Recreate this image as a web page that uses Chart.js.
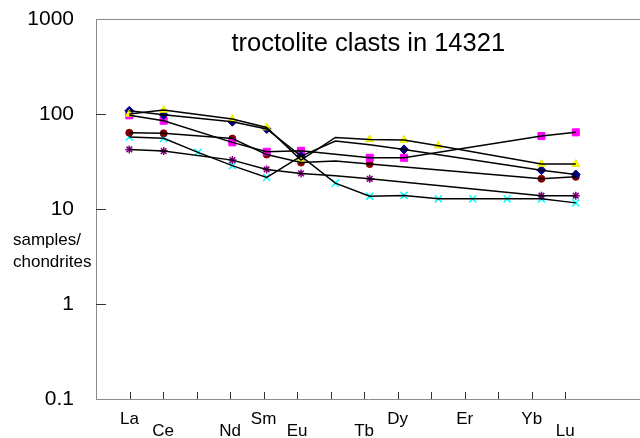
<!DOCTYPE html>
<html>
<head>
<meta charset="utf-8">
<title>troctolite clasts in 14321</title>
<script src="https://cdn.jsdelivr.net/npm/chart.js@4.4.1/dist/chart.umd.min.js"></script>
<style>
  html, body { margin: 0; padding: 0; background: #fff; }
  #wrap { width: 640px; height: 438px; position: relative; }
</style>
</head>
<body>
<div id="wrap"><canvas id="ree"></canvas></div>
<script>
// Rare earth elements in order of atomic number
const elements = ['La', 'Ce', 'Pr', 'Nd', 'Sm', 'Eu', 'Gd', 'Tb', 'Dy', 'Ho', 'Er', 'Tm', 'Yb', 'Lu'];
// Axis labels (blank where an element is not labelled) and which row each one sits on
const axisLabels = ['La', 'Ce', '', 'Nd', 'Sm', 'Eu', '', 'Tb', 'Dy', '', 'Er', '', 'Yb', 'Lu'];
const labelRow = [0, 1, 0, 1, 0, 1, 0, 1, 0, 0, 0, 0, 0, 1];
const yTicks = [0.1, 1, 10, 100, 1000];

// Chondrite-normalised abundances per clast (null = not determined)
const clastA = [108, 98, null, 83, 69.5, 36, 52, 47.4, 42.4, null, null, null, 25.6, 23.1];
const clastAUnmarked = ['Gd', 'Tb'];
const clastB = [100, 110, null, 88.6, 72, 32.7, 56.7, 54, 53.2, 46.4, null, null, 29.7, 29.7];
const clastBUnmarked = ['Gd'];
const clastC = [96.9, 85, null, 50.3, 40, 41, null, 34.6, 34.6, null, null, null, 58.6, 64.1];
const clastCUnmarked = [];
const clastD = [63.5, 62.6, null, 55.2, 37.4, 30.8, 32.1, 29.7, null, null, null, null, 20.8, 21.8];
const clastDUnmarked = ['Gd'];
const clastE = [42.4, 40.7, null, 32.7, 26.1, 23.7, 22.4, 20.8, null, null, null, null, 13.8, 13.8];
const clastEUnmarked = ['Gd'];
const clastF = [57.2, 55.4, 39.4, 28.6, 21.5, 36, 18.7, 13.6, 13.9, 12.8, 12.8, 12.8, 12.8, 11.6];
const clastFUnmarked = [];

const fontFamily = '"Liberation Sans", Arial, Helvetica, sans-serif';

const series = [
  { values: clastB, unmarked: clastBUnmarked, style: { pointStyle: 'triangle', pointRadius: 4.5, backgroundColor: '#ffff00', borderColor: '#e6e600', borderWidth: 1 }, order: 1 },
  { values: clastA, unmarked: clastAUnmarked, style: { pointStyle: 'rectRot', pointRadius: 4.5, backgroundColor: '#000080', borderColor: '#000080', borderWidth: 1 }, order: 2 },
  { values: clastC, unmarked: clastCUnmarked, style: { pointStyle: 'rect', pointRadius: 5, backgroundColor: '#ff00ff', borderColor: '#ff00ff', borderWidth: 1 }, order: 3 },
  { values: clastD, unmarked: clastDUnmarked, style: { pointStyle: 'circle', pointRadius: 3.5, backgroundColor: '#800000', borderColor: '#800000', borderWidth: 1 }, order: 4 },
  { values: clastE, unmarked: clastEUnmarked, style: { pointStyle: 'star', pointRadius: 4, backgroundColor: '#800080', borderColor: '#800080', borderWidth: 1.5 }, order: 5 },
  { values: clastF, unmarked: clastFUnmarked, style: { pointStyle: 'crossRot', pointRadius: 5, backgroundColor: '#00ffff', borderColor: '#00ffff', borderWidth: 1.5 }, order: 6 }
];

const toPoints = values => values.map((v, i) => ({ x: i + 1, y: v }));

// Black connecting lines, drawn above the markers
const lineSets = series.map(s => ({
  data: toPoints(s.values),
  xAxisID: 'x', yAxisID: 'y',
  borderColor: '#000',
  borderWidth: 1.5,
  pointRadius: 0,
  spanGaps: true,
  tension: 0,
  fill: false,
  order: 0
}));

// Coloured symbols at the analysed elements
const markerSets = series.map(s => Object.assign({
  data: toPoints(s.values).filter(p => p.y !== null && !s.unmarked.includes(elements[p.x - 1])),
  xAxisID: 'x', yAxisID: 'y',
  showLine: false,
  order: s.order
}, s.style));

// Inward tick marks and the top frame line
const innerTicks = {
  id: 'innerTicks',
  beforeDatasetsDraw(chart) {
    const { ctx, chartArea: a, scales } = chart;
    ctx.save();
    ctx.lineWidth = 1;
    ctx.strokeStyle = '#8c8c8c';
    ctx.beginPath();
    ctx.moveTo(a.left, a.top + 0.5);
    ctx.lineTo(a.right, a.top + 0.5);
    ctx.stroke();

    ctx.strokeStyle = '#333';
    ctx.beginPath();
    scales.y.ticks.forEach(t => {
      if (t.value <= scales.y.min || t.value >= scales.y.max) return;
      const py = Math.round(scales.y.getPixelForValue(t.value)) + 0.5;
      ctx.moveTo(a.left, py);
      ctx.lineTo(a.left + 10, py);
    });
    scales.xt.ticks.forEach(t => {
      const px = Math.round(scales.xt.getPixelForValue(t.value)) + 0.5;
      ctx.moveTo(px, a.bottom);
      ctx.lineTo(px, a.bottom - 7);
    });
    ctx.stroke();
    ctx.restore();
  }
};

// Chart heading inside the plot and the horizontal y-axis caption
const captions = {
  id: 'captions',
  afterDraw(chart, args, opts) {
    const { ctx, chartArea: a } = chart;
    ctx.save();
    ctx.fillStyle = '#000';
    ctx.textBaseline = 'alphabetic';
    ctx.font = '25.5px ' + fontFamily;
    ctx.textAlign = 'center';
    ctx.fillText(opts.title, (a.left + a.right) / 2 + 0.3, a.top + 31.5);
    ctx.font = '17px ' + fontFamily;
    ctx.textAlign = 'left';
    opts.yLabel.forEach((line, i) => ctx.fillText(line, 13, 244.5 + i * 22));
    ctx.restore();
  }
};

new Chart(document.getElementById('ree'), {
  type: 'line',
  data: { datasets: [...lineSets, ...markerSets] },
  options: {
    responsive: true,
    maintainAspectRatio: false,
    animation: false,
    events: [],
    layout: { autoPadding: false, padding: { top: 19, left: 0, right: 0, bottom: 0 } },
    plugins: {
      legend: { display: false },
      tooltip: { enabled: false },
      captions: {
        title: 'troctolite clasts in 14321',
        yLabel: ['samples/', 'chondrites']
      }
    },
    scales: {
      x: {
        type: 'linear',
        display: false,
        min: 0.03,
        max: 15.87
      },
      xt: {
        type: 'linear',
        position: 'bottom',
        min: 0,
        max: 16.23,
        afterBuildTicks: scale => { scale.ticks = elements.map((e, i) => ({ value: i + 1 })); },
        afterFit: scale => { scale.height = 39; },
        grid: { display: true, drawOnChartArea: false, drawTicks: true, tickLength: 14, tickColor: 'rgba(0,0,0,0)' },
        border: { display: true, color: '#8c8c8c', width: 1 },
        ticks: {
          autoSkip: false,
          maxRotation: 0,
          minRotation: 0,
          padding: 0,
          color: '#000',
          font: { family: fontFamily, size: 17, lineHeight: 0.73 },
          callback: (v, i) => labelRow[i] ? ['', axisLabels[i]] : [axisLabels[i], '']
        }
      },
      y: {
        type: 'logarithmic',
        position: 'left',
        min: 0.1,
        max: 1000,
        afterBuildTicks: scale => { scale.ticks = yTicks.map(v => ({ value: v })); },
        afterFit: scale => { scale.width = 96; },
        grid: { display: true, drawOnChartArea: false, drawTicks: true, tickLength: 22, tickColor: 'rgba(0,0,0,0)' },
        border: { display: true, color: '#8c8c8c', width: 1 },
        ticks: {
          padding: 0,
          color: '#000',
          font: { family: fontFamily, size: 21 },
          callback: v => String(v)
        }
      }
    }
  },
  plugins: [innerTicks, captions]
});
</script>
</body>
</html>
